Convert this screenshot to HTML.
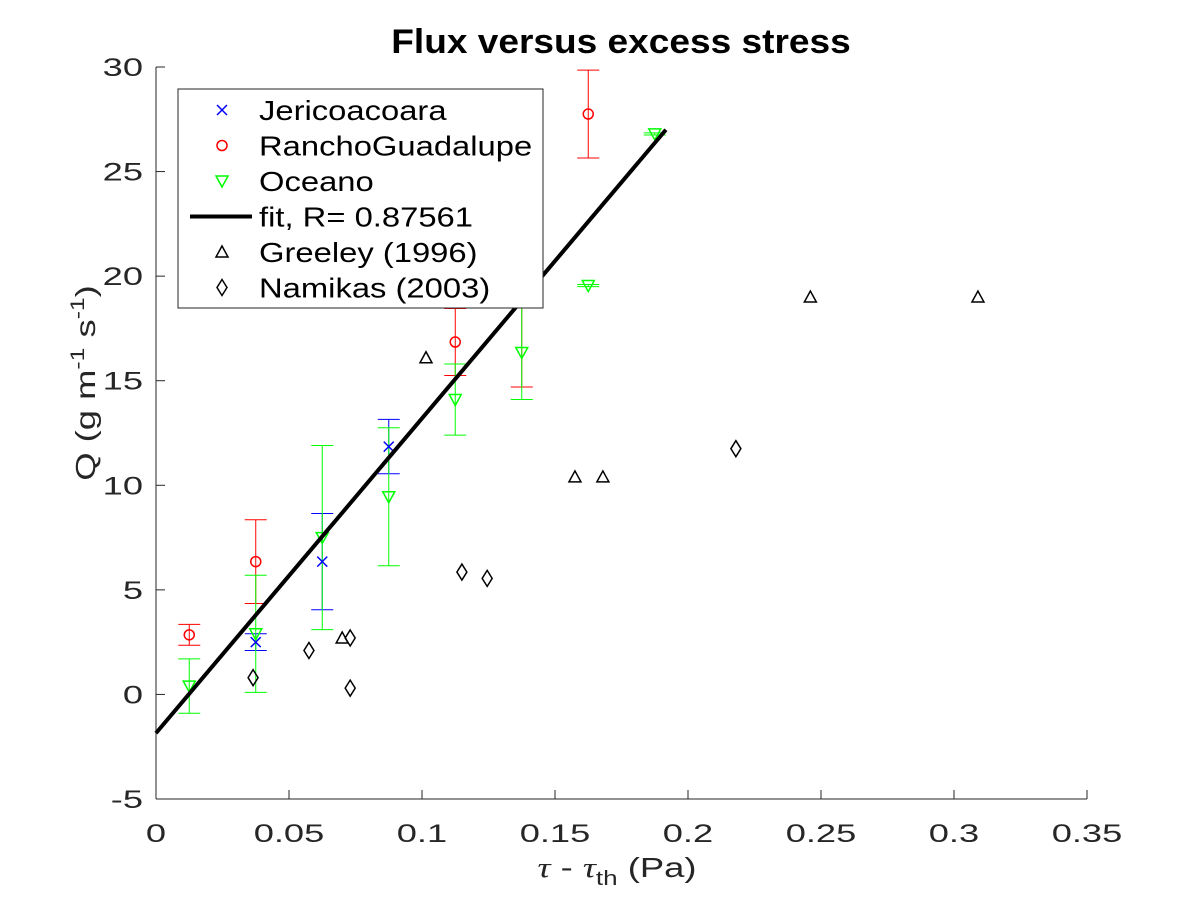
<!DOCTYPE html>
<html><head><meta charset="utf-8"><style>
body{margin:0;background:#fff;}
svg text{font-family:"Liberation Sans",sans-serif;fill:#262626;}
</style></head><body>
<svg id="chart" width="1200" height="900" xmlns="http://www.w3.org/2000/svg">
<rect width="1200" height="900" fill="#fff"/>
<text id="title" x="621" y="53" text-anchor="middle" font-size="34" font-weight="bold" style="fill:#000">Flux versus excess stress</text>
<g id="axes"></g>
<g id="marks"></g>
<text id="xt" x="617" y="877" text-anchor="middle" font-size="28"><tspan font-family="Liberation Serif" font-style="italic">τ</tspan> - <tspan font-family="Liberation Serif" font-style="italic">τ</tspan><tspan font-size="20" dy="8">th</tspan><tspan dy="-8"> (Pa)</tspan></text>
<text id="yt" transform="translate(95,383) rotate(-90)" text-anchor="middle" font-size="28">Q (g m<tspan font-size="19" dy="-11">-1</tspan><tspan dy="11"> s</tspan><tspan font-size="19" dy="-11">-1</tspan><tspan dy="11">)</tspan></text>
<g id="legend"></g>
</svg>
<script>
const xTicks=[0,0.05,0.1,0.15,0.2,0.25,0.3,0.35];
const yTicks=[-5,0,5,10,15,20,25,30];
const jerX=[0.0375,0.0625,0.0875];
const jerY=[2.5,6.35,11.85];
const jerE=[0.4,2.3,1.3];
const ranX=[0.0125,0.0375,0.1125,0.1375,0.1625];
const ranY=[2.85,6.35,16.85,19.0,27.75];
const ranE=[0.5,2.0,1.6,4.3,2.1];
const oceX=[0.0125,0.0375,0.0625,0.0875,0.1125,0.1375,0.1625,0.1875];
const oceY=[0.4,2.9,7.5,9.45,14.1,16.35,19.55,26.8];
const oceE=[1.3,2.8,4.4,3.3,1.7,2.25,0.05,0.05];
const greX=[0.070,0.1015,0.1575,0.168,0.246,0.309];
const greY=[2.7,16.1,10.4,10.4,19.0,19.0];
const namX=[0.0365,0.0575,0.073,0.073,0.115,0.1245,0.218];
const namY=[0.8,2.1,2.7,0.3,5.85,5.55,11.75];
const fitX=[0,0.1917];
const fitY=[-1.85,27.0];
const legendLabels=["Jericoacoara","RanchoGuadalupe","Oceano","fit, R= 0.87561","Greeley (1996)","Namikas (2003)"];

const NS="http://www.w3.org/2000/svg";
const X0=156,X1=1087,Y0=799,Y1=67;
const sx=v=>X0+(v-0)/(0.35)*(X1-X0);
const sy=v=>Y0-(v+5)/35*(Y0-Y1);
function mk(tag,attrs,parent){const e=document.createElementNS(NS,tag);for(const k in attrs)e.setAttribute(k,attrs[k]);parent.appendChild(e);return e;}
function stretch(el,f){const w=el.getComputedTextLength();el.setAttribute('textLength',w*f);el.setAttribute('lengthAdjust','spacingAndGlyphs');}
const axes=document.getElementById('axes'),marks=document.getElementById('marks'),leg=document.getElementById('legend');
let a=mk('line',{x1:X0,y1:Y0,x2:X1,y2:Y0,stroke:'#262626','stroke-width':1},axes);

a=mk('line',{x1:X0,y1:Y0,x2:X0,y2:Y1,stroke:'#262626','stroke-width':1},axes);

xTicks.forEach(t=>{const x=sx(t);
 const l=mk('line',{x1:x,y1:Y0,x2:x,y2:Y0-9,stroke:'#262626'},axes);
 
 const tx=mk('text',{x:x,y:Y0+43,'text-anchor':'middle','font-size':25},axes);tx.textContent=String(t);
 
 stretch(tx,1.45);});
yTicks.forEach(t=>{const y=sy(t);
 const l=mk('line',{x1:X0,y1:y,x2:X0+9,y2:y,stroke:'#262626'},axes);
 
 const tx=mk('text',{x:X0-13,y:y+9,'text-anchor':'end','font-size':25},axes);tx.textContent=String(t);
 
 stretch(tx,1.45);});
stretch(document.getElementById('title'),1.09);
stretch(document.getElementById('xt'),1.3);
stretch(document.getElementById('yt'),1.3);
function errbar(x,y,e,col,name){const g=mk('g',{stroke:col,'stroke-width':1,fill:'none'},marks);
 
 const px=sx(x),t=sy(y+e),b=sy(y-e);
 mk('line',{x1:px,y1:t,x2:px,y2:b},g);mk('line',{x1:px-11,y1:t,x2:px+11,y2:t},g);mk('line',{x1:px-11,y1:b,x2:px+11,y2:b},g);}
function marker(type,px,py,col,parent){
 if(type==='x'){const s=5;mk('path',{d:`M${px-s},${py-s}L${px+s},${py+s}M${px-s},${py+s}L${px+s},${py-s}`,stroke:col,'stroke-width':1.5,fill:'none'},parent);}
 else if(type==='o'){mk('circle',{cx:px,cy:py,r:5,stroke:col,'stroke-width':1.5,fill:'none'},parent);}
 else if(type==='v'){mk('path',{d:`M${px-6},${py-5}L${px+6},${py-5}L${px},${py+6}Z`,stroke:col,'stroke-width':1.5,fill:'none'},parent);}
 else if(type==='^'){mk('path',{d:`M${px-6},${py+5}L${px+6},${py+5}L${px},${py-6}Z`,stroke:col,'stroke-width':1.5,fill:'none'},parent);}
 else if(type==='d'){mk('path',{d:`M${px},${py-8}L${px+5},${py}L${px},${py+8}L${px-5},${py}Z`,stroke:col,'stroke-width':1.5,fill:'none'},parent);}
}
ranX.forEach((x,i)=>errbar(x,ranY[i],ranE[i],'#ff0000','rancho-errorbar'));
jerX.forEach((x,i)=>errbar(x,jerY[i],jerE[i],'#0000ff','jericoacoara-errorbar'));
oceX.forEach((x,i)=>errbar(x,oceY[i],oceE[i],'#00ff00','oceano-errorbar'));
function pts(X,Y,type,col,name){X.forEach((x,i)=>{const g=mk('g',{},marks);
 
 marker(type,sx(x),sy(Y[i]),col,g);});}
pts(ranX,ranY,'o','#ff0000','rancho-point');
pts(jerX,jerY,'x','#0000ff','jericoacoara-point');
pts(oceX,oceY,'v','#00ff00','oceano-point');
const fl=mk('line',{x1:sx(fitX[0]),y1:sy(fitY[0]),x2:sx(fitX[1]),y2:sy(fitY[1]),stroke:'#000','stroke-width':4},marks);

pts(greX,greY,'^','#000','greeley-point');
pts(namX,namY,'d','#000','namikas-point');
const lb=mk('rect',{x:178,y:89,width:365,height:219,fill:'#fff',stroke:'#262626','stroke-width':1},leg);

const types=['x','o','v','line','^','d'],cols=['#0000ff','#ff0000','#00ff00','#000','#000','#000'];
legendLabels.forEach((lab,i)=>{const y=110+i*35.5;const g=mk('g',{},leg);
 
 if(types[i]==='line')mk('line',{x1:190,y1:y,x2:252,y2:y,stroke:'#000','stroke-width':4},g);
 else marker(types[i],222,y,cols[i],g);
 const t=mk('text',{x:259,y:y+10,'font-size':28,style:'fill:#000'},g);t.textContent=lab;
 stretch(t,1.17);});
</script>
</body></html>
